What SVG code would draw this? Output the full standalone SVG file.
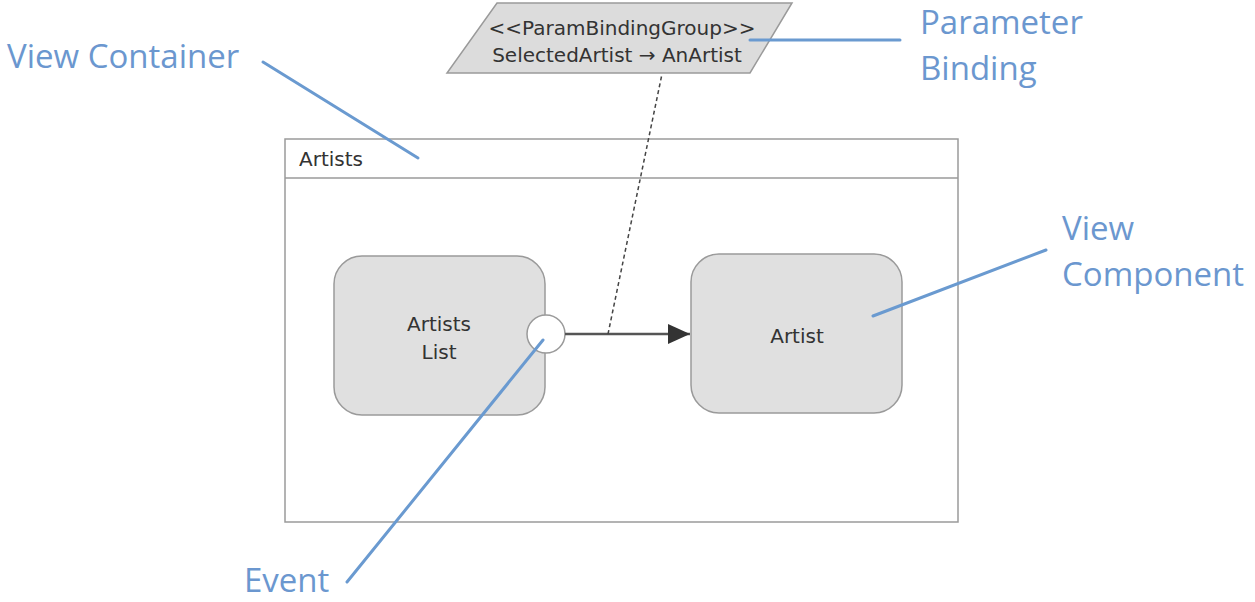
<svg xmlns="http://www.w3.org/2000/svg" width="1255" height="602" viewBox="0 0 1255 602">
<defs>
<style>
.node{fill:#e0e0e0;stroke:#9a9a9a;stroke-width:1.5}
.t{font-family:"DejaVu Sans",Verdana,sans-serif;font-size:20px;fill:#333}
.lbl{font-family:"Open Sans","Liberation Sans",Arial,sans-serif;font-size:33px;fill:#6b97cf}
.call{stroke:#6a9ad0;stroke-width:3;fill:none;stroke-linecap:round}
</style>
<marker id="tri" viewBox="0 0 22 20" markerWidth="22" markerHeight="20" refX="22" refY="10" orient="auto" markerUnits="userSpaceOnUse"><path d="M0,0 L22,10 L0,20 z" fill="#333"/></marker>
</defs>
<rect width="1255" height="602" fill="#fff"/>
<g id="container">
<rect x="285" y="139" width="673" height="383" fill="#fff" stroke="#9a9a9a" stroke-width="1.5"/>
<line x1="285" y1="178" x2="958" y2="178" stroke="#9a9a9a" stroke-width="1.5"/>
<text class="t" x="299" y="166">Artists</text>
</g>
<g id="param-binding">
<polygon points="497,3 792,3 750,73 447,73" fill="#dcdcdc" stroke="#9a9a9a" stroke-width="1.5"/>
<text class="t" x="622" y="35" text-anchor="middle">&lt;&lt;ParamBindingGroup&gt;&gt;</text>
<text class="t" x="617" y="62" text-anchor="middle">SelectedArtist → AnArtist</text>
</g>
<g id="artists-list">
<rect class="node" x="334" y="256" width="211" height="159" rx="28"/>
<text class="t" x="439" y="331" text-anchor="middle">Artists</text>
<text class="t" x="439" y="359" text-anchor="middle">List</text>
</g>
<g id="artist">
<rect class="node" x="691" y="254" width="211" height="159" rx="28"/>
<text class="t" x="797" y="343" text-anchor="middle">Artist</text>
</g>
<g id="event">
<circle cx="546" cy="334" r="19" fill="#fff" stroke="#9a9a9a" stroke-width="1.5"/>
</g>
<g id="connectors">
<line x1="565" y1="334" x2="690" y2="334" stroke="#555" stroke-width="2.5" marker-end="url(#tri)"/>
<line x1="608" y1="334" x2="662" y2="74" stroke="#444" stroke-width="1.5" stroke-dasharray="4,3"/>
</g>
<g id="callouts">
<line class="call" x1="263" y1="62" x2="418" y2="158"/>
<line class="call" x1="750" y1="40" x2="900" y2="40"/>
<line class="call" x1="1046" y1="250" x2="873" y2="316"/>
<line class="call" x1="347" y1="582" x2="543" y2="340"/>
<text class="lbl" x="7" y="68">View Container</text>
<text class="lbl" x="920" y="34">Parameter</text>
<text class="lbl" x="920" y="80">Binding</text>
<text class="lbl" x="1062" y="240">View</text>
<text class="lbl" x="1062" y="286">Component</text>
<text class="lbl" x="244" y="592">Event</text>
</g>
</svg>
